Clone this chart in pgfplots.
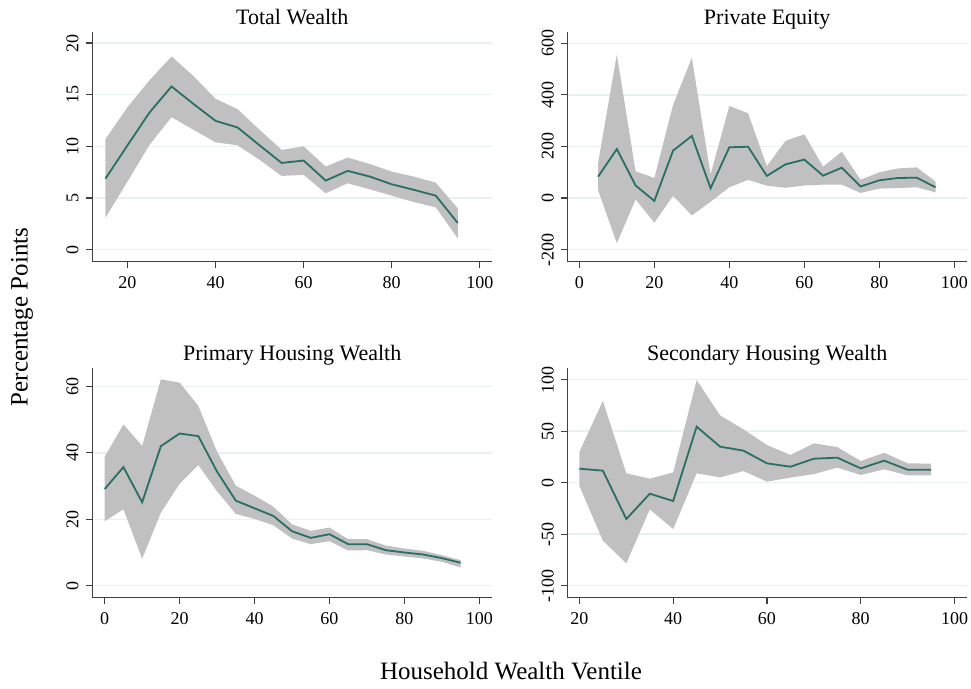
\documentclass[border=0pt]{standalone}
\usepackage{fontspec}
\setmainfont{Liberation Serif}
\usepackage{pgfplots}
\pgfplotsset{compat=1.18}
\usepackage{pgfplotstable}
\usepgfplotslibrary{fillbetween}
\definecolor{lineteal}{HTML}{2A6E64}
\definecolor{bandgray}{HTML}{C0C0C0}
\definecolor{gridblue}{HTML}{E8F0F2}

% x, point estimate, lower and upper bound
\pgfplotstableread{
x mid lo hi
15 6.88 3.1 10.7
20 10.1 6.6 13.8
25 13.28 10.15 16.4
30 15.8 12.83 18.7
35 14.1 11.6 16.8
40 12.47 10.4 14.6
45 11.83 10.1 13.6
50 10.1 8.7 11.6
55 8.4 7.14 9.66
60 8.63 7.24 10.0
65 6.69 5.46 8.05
70 7.63 6.43 8.92
75 7.08 5.85 8.3
80 6.33 5.23 7.56
85 5.8 4.62 7.08
90 5.23 4.1 6.49
95 2.58 1.1 4.0
}\totalw
\pgfplotstableread{
x mid lo hi
5 83 31 135
10 190 -175 557
15 49 -5 104
20 -11 -95 78
25 184 9 361
30 241 -67 544
35 38 -14 92
40 197 42 357
45 199 71 329
50 86 48 124
55 131 40 222
60 149 49 247
65 87 52 122
70 118 52 180
75 45 20 71
80 69 37 100
85 78 39 115
90 79 42 119
95 42 22 64
}\privq
\pgfplotstableread{
x mid lo hi
0 29.1 19.4 38.8
5 35.7 23.0 48.5
10 25.1 8.1 42.1
15 42.0 22.0 62.1
20 45.8 30.7 61.1
25 45.0 36.3 54.1
30 34.3 28.4 40.3
35 25.6 21.6 30.1
40 23.3 20.1 27.1
45 21.0 18.2 23.8
50 16.4 14.2 18.5
55 14.4 12.5 16.5
60 15.5 13.4 17.5
65 12.5 10.6 14.0
70 12.5 10.7 14.0
75 10.7 9.4 12.1
80 10.0 8.8 11.2
85 9.4 8.2 10.5
90 8.3 7.2 9.2
95 6.9 5.5 7.7
}\primh
\pgfplotstableread{
x mid lo hi
20 13.6 -3.2 30.1
25 11.7 -56.3 79.3
30 -35.3 -78.3 9.1
35 -10.7 -25.9 3.9
40 -17.8 -45.0 10.0
45 54.4 9.1 99.7
50 35.0 5.2 65.4
55 31.1 11.3 51.8
60 18.8 1.0 36.6
65 15.5 4.9 26.9
70 23.3 8.4 38.2
75 24.3 14.6 34.6
80 13.9 7.5 21.0
85 21.4 13.0 29.1
90 12.6 7.1 18.8
95 12.6 7.1 18.5
}\sech

\pgfplotsset{
  panel/.style={
    scale only axis, width=399pt, height=230pt, anchor=south west,
    axis lines=left, axis line style={-, draw=black!75, line width=1.2pt},
    tick align=outside, major tick length=6.5pt,
    tick style={draw=black!75, line width=1.2pt},
    ymajorgrids, grid style={gridblue, line width=1.5pt},
    /pgf/number format/assume math mode=true,
    ticklabel style={font=\fontsize{18}{20}\selectfont},
    yticklabel style={rotate=90, anchor=south},
    xticklabel shift=5pt, yticklabel shift=4pt,
    title style={font=\fontsize{22}{24}\selectfont, anchor=base, yshift=1.2pt},
  },
}
\newcommand{\band}[1]{%
  \addplot[name path=hi, draw=none] table[x=x, y=hi] {#1};
  \addplot[name path=lo, draw=none] table[x=x, y=lo] {#1};
  \addplot[bandgray, draw=none] fill between[of=hi and lo];
  \addplot[lineteal, line width=1.8pt] table[x=x, y=mid] {#1};
}

\begin{document}
\begin{tikzpicture}

\begin{axis}[panel, at={(92.7pt,426.3pt)}, title={Total Wealth},
  xmin=12.1, xmax=102.7, ymin=-1.16, ymax=21.1,
  xtick={20,40,...,100}, ytick={0,5,...,20}]
\band{\totalw}
\end{axis}

\begin{axis}[panel, at={(567.7pt,426.3pt)}, title={Private Equity},
  xmin=-3.1, xmax=103.3, ymin=-246.5, ymax=645,
  xtick={0,20,...,100}, ytick={-200,0,...,600}]
\band{\privq}
\end{axis}

\begin{axis}[panel, at={(92.7pt,90.3pt)}, title={Primary Housing Wealth},
  xmin=-3.2, xmax=103.3, ymin=-3.6, ymax=65.6,
  xtick={0,20,...,100}, ytick={0,20,...,60}]
\band{\primh}
\end{axis}

\begin{axis}[panel, at={(567.7pt,90.3pt)}, title={Secondary Housing Wealth},
  xmin=17.5, xmax=102.6, ymin=-111.7, ymax=111.7,
  xtick={20,40,...,100}, ytick={-100,-50,...,100}]
\band{\sech}
\end{axis}

\node[rotate=90, font=\fontsize{25}{27}\selectfont] at (22pt,371pt) {Percentage Points};
\node[anchor=base, font=\fontsize{25}{27}\selectfont] at (511pt,8.7pt) {Household Wealth Ventile};
\pgfresetboundingbox
\path (0,0) rectangle (971pt,688pt);
\end{tikzpicture}
\end{document}
